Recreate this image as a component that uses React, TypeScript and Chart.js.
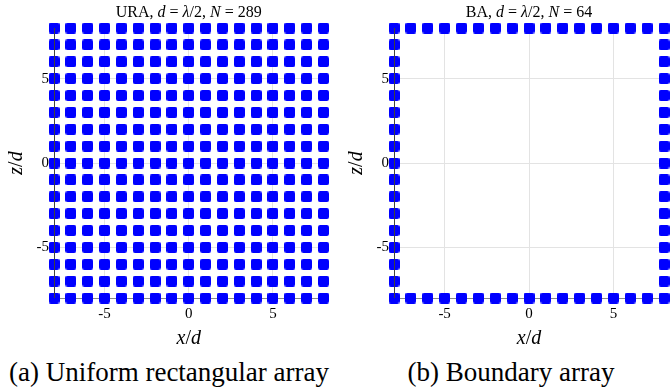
import React, { useEffect, useRef } from "react";
import { Chart, registerables } from "chart.js";
Chart.register(...registerables);

// element positions (in units of d) along each axis
const positions = [-8, -7, -6, -5, -4, -3, -2, -1, 0, 1, 2, 3, 4, 5, 6, 7, 8];
const tickValues = [-5, 0, 5];
const tickLabels = ["-5", "0", "5"];
const axisMin = -8;
const axisMax = 8;

type Part = { t: string; it?: boolean };
const uraTitle: Part[] = [
  { t: "URA, " }, { t: "d", it: true }, { t: " = " }, { t: "λ", it: true },
  { t: "/2, " }, { t: "N", it: true }, { t: " = 289" },
];
const baTitle: Part[] = [
  { t: "BA, " }, { t: "d", it: true }, { t: " = " }, { t: "λ", it: true },
  { t: "/2, " }, { t: "N", it: true }, { t: " = 64" },
];
const xLabel: Part[] = [{ t: "x", it: true }, { t: "/" }, { t: "d", it: true }];
const zLabel: Part[] = [{ t: "z", it: true }, { t: "/" }, { t: "d", it: true }];
const captionA = "(a) Uniform rectangular array";
const captionB = "(b) Boundary array";

const uraPoints = positions.flatMap((z) => positions.map((x) => ({ x, y: z })));
const baPoints = uraPoints.filter(
  (p) => p.x === axisMin || p.x === axisMax || p.y === axisMin || p.y === axisMax
);

const SERIF = "'Liberation Serif', 'DejaVu Serif', serif";

function makeMarker(): HTMLCanvasElement {
  const c = document.createElement("canvas");
  const s = 11;
  c.width = s;
  c.height = s;
  const g = c.getContext("2d")!;
  g.fillStyle = "#0000ff";
  g.beginPath();
  (g as any).roundRect(0, 0, s, s, 2.2);
  g.fill();
  return c;
}

function drawParts(ctx: CanvasRenderingContext2D, parts: Part[], size: number, cx: number, cy: number) {
  const fontOf = (p: Part) => `${p.it ? "italic " : ""}${size}px ${SERIF}`;
  let total = 0;
  for (const p of parts) {
    ctx.font = fontOf(p);
    total += ctx.measureText(p.t).width;
  }
  let x = cx - total / 2;
  ctx.textBaseline = "middle";
  ctx.textAlign = "left";
  ctx.fillStyle = "#000";
  for (const p of parts) {
    ctx.font = fontOf(p);
    ctx.fillText(p.t, x, cy);
    x += ctx.measureText(p.t).width;
  }
}

function Panel(props: { points: { x: number; y: number }[]; title: Part[]; width: number; padRight: number; left: number }) {
  const ref = useRef<HTMLCanvasElement>(null);
  useEffect(() => {
    const canvas = ref.current!;
    const deco = {
      id: "deco",
      beforeDatasetsDraw(chart: any) {
        const { ctx, chartArea: a } = chart;
        ctx.save();
        ctx.strokeStyle = "#8a8a8a";
        ctx.lineWidth = 1;
        ctx.beginPath();
        ctx.moveTo(a.left, a.bottom + 0.5);
        ctx.lineTo(a.right, a.bottom + 0.5);
        ctx.stroke();
        ctx.restore();
      },
      afterDatasetsDraw(chart: any) {
        const { ctx, chartArea: a } = chart;
        ctx.save();
        ctx.strokeStyle = "#404040";
        ctx.lineWidth = 1;
        ctx.beginPath();
        ctx.moveTo(Math.round(a.left) + 0.5, a.top);
        ctx.lineTo(Math.round(a.left) + 0.5, a.bottom);
        ctx.stroke();
        const cx = (a.left + a.right) / 2;
        drawParts(ctx, props.title, 16, cx, 13);
        drawParts(ctx, xLabel, 20, cx, 339);
        ctx.translate(17, (a.top + a.bottom) / 2);
        ctx.rotate(-Math.PI / 2);
        drawParts(ctx, zLabel, 20, 0, 0);
        ctx.restore();
      },
    };
    const tickFont = { family: SERIF, size: 15 };
    const lbl = (v: any) => {
      const i = tickValues.indexOf(Number(v));
      return i >= 0 ? tickLabels[i] : "";
    };
    const chart = new Chart(canvas, {
      type: "scatter",
      data: {
        datasets: [
          {
            data: props.points,
            pointStyle: makeMarker(),
            radius: 6,
            backgroundColor: "#0000ff",
            borderColor: "#0000ff",
            borderWidth: 0,
            clip: false,
          } as any,
        ],
      },
      options: {
        animation: false,
        responsive: false,
        maintainAspectRatio: false,
        events: [],
        layout: { padding: { top: 28, right: props.padRight, bottom: 0, left: 0 } },
        plugins: { legend: { display: false }, tooltip: { enabled: false }, title: { display: false } },
        scales: {
          x: {
            type: "linear",
            min: axisMin,
            max: axisMax,
            afterBuildTicks: (s: any) => { s.ticks = tickValues.map((v) => ({ value: v })); },
            afterFit: (s: any) => { s.height = 52; },
            ticks: { callback: lbl, font: tickFont, color: "#000", padding: 7, maxRotation: 0, autoSkip: false },
            grid: { color: "#e3e3e3", drawTicks: false },
            border: { display: false },
          },
          y: {
            type: "linear",
            min: axisMin,
            max: axisMax,
            afterBuildTicks: (s: any) => { s.ticks = tickValues.map((v) => ({ value: v })); },
            afterFit: (s: any) => { s.width = 54; },
            ticks: { callback: lbl, font: tickFont, color: "#000", padding: 5, autoSkip: false },
            grid: { color: "#e3e3e3", drawTicks: false },
            border: { display: false },
          },
        },
      } as any,
      plugins: [deco],
    });
    return () => chart.destroy();
  }, []);
  return (
    <canvas
      ref={ref}
      width={props.width}
      height={350}
      style={{ position: "absolute", left: props.left, top: 0, width: props.width, height: 350 }}
    />
  );
}

export default function App() {
  const capStyle: React.CSSProperties = {
    position: "absolute",
    top: 356,
    fontFamily: SERIF,
    fontSize: 27,
    lineHeight: "32px",
    whiteSpace: "nowrap",
    transform: "translateX(-50%)",
    color: "#000",
  };
  return (
    <div style={{ position: "fixed", left: 0, top: 0, width: 670, height: 392, background: "#fff", overflow: "hidden" }}>
      <Panel points={uraPoints} title={uraTitle} width={340} padRight={16.5} left={0} />
      <Panel points={baPoints} title={baTitle} width={330} padRight={5} left={340} />
      <div style={{ ...capStyle, left: 169 }}>{captionA}</div>
      <div style={{ ...capStyle, left: 511 }}>{captionB}</div>
    </div>
  );
}
